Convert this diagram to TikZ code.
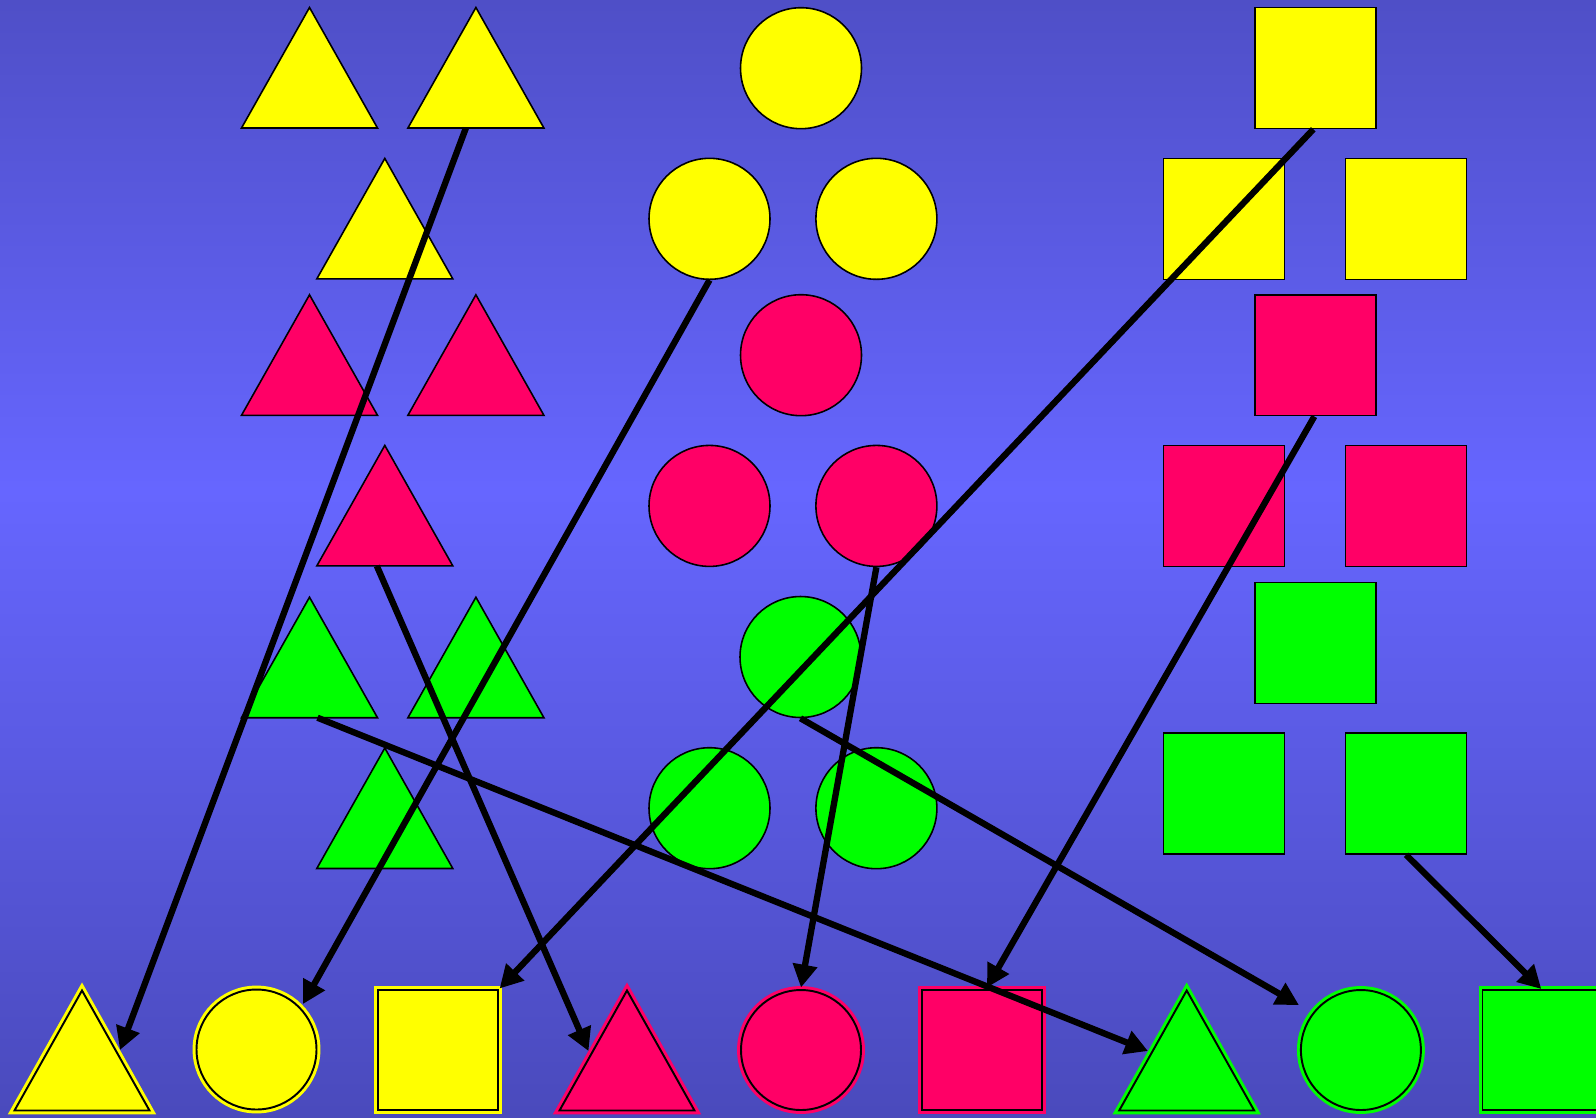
\documentclass[tikz,border=0pt]{standalone}
\usetikzlibrary{arrows.meta,calc}
\definecolor{sy}{HTML}{FFFF00}
\definecolor{sr}{HTML}{FF0066}
\definecolor{sg}{HTML}{00FF00}
\definecolor{bgtop}{HTML}{4F4FC7}
\definecolor{bgmid}{HTML}{6666FF}
\definecolor{bgbot}{HTML}{4A4ABC}
\newcommand\mytri[5]{%
  \coordinate (#1) at (#2,#3);
  \draw[#5, fill=#4] ($(#1)+(-68,0)$) -- ($(#1)+(0,-120.5)$) -- ($(#1)+(68,0)$) -- cycle;}
\begin{document}
\begin{tikzpicture}[x=0.02cm,y=-0.02cm,
  shp/.style={draw=black, line width=0.9pt, line join=miter},
  circ/.style={shp, circle, inner sep=0pt, minimum size=2.42cm},
  sq/.style={shp, rectangle, inner sep=0pt, minimum size=2.42cm},
  bshp/.style={draw=black, line width=1.1pt, preaction={draw=#1, line width=4.5pt}, fill=#1},
  bcirc/.style={bshp=#1, circle, inner sep=0pt, minimum size=2.4cm},
  bsq/.style={bshp=#1, rectangle, inner sep=0pt, minimum size=2.4cm},
  arr/.style={line width=3.6pt, -{Triangle[length=13pt,width=13.5pt]}}]
\useasboundingbox (0,0) rectangle (1596,1117);
\shade[top color=bgtop,bottom color=bgmid] (0,0) rectangle (1596,491);
\shade[top color=bgmid,bottom color=bgbot] (0,490) rectangle (1596,1117);
% triangles
\mytri{ty1}{309.5}{128}{sy}{shp}
\mytri{ty2}{475.9}{128}{sy}{shp}
\mytri{ty3}{384.8}{278.9}{sy}{shp}
\mytri{tr1}{309.5}{415.3}{sr}{shp}
\mytri{tr2}{475.9}{415.3}{sr}{shp}
\mytri{tr3}{384.8}{565.9}{sr}{shp}
\mytri{tg1}{309.5}{717.7}{sg}{shp}
\mytri{tg2}{475.9}{717.7}{sg}{shp}
\mytri{tg3}{384.8}{868.5}{sg}{shp}
% circles
\node[circ, fill=sy] (cy1) at (801,68.2) {};
\node[circ, fill=sy] (cy2) at (709.5,218.8) {};
\node[circ, fill=sy] (cy3) at (876.4,218.8) {};
\node[circ, fill=sr] (cr1) at (801,355.2) {};
\node[circ, fill=sr] (cr2) at (709.5,505.9) {};
\node[circ, fill=sr] (cr3) at (876.4,505.9) {};
\node[circ, fill=sg] (cg1) at (800.5,657) {};
\node[circ, fill=sg] (cg2) at (709.5,808.2) {};
\node[circ, fill=sg] (cg3) at (876.4,808.2) {};
% squares
\node[sq, fill=sy] (sy1) at (1315.3,68) {};
\node[sq, fill=sy] (sy2) at (1223.9,219) {};
\node[sq, fill=sy] (sy3) at (1406,219) {};
\node[sq, fill=sr] (sr1) at (1315.3,355.2) {};
\node[sq, fill=sr] (sr2) at (1223.9,506) {};
\node[sq, fill=sr] (sr3) at (1406,506) {};
\node[sq, fill=sg] (sg1) at (1315.3,643) {};
\node[sq, fill=sg] (sg2) at (1223.9,793.5) {};
\node[sq, fill=sg] (sg3) at (1406,793.5) {};
% bottom row
\coordinate (bty) at (82,1110.5);
\draw[bshp=sy] ($(bty)+(-67.5,0)$) -- ($(bty)+(0,-120)$) -- ($(bty)+(67.5,0)$) -- cycle;
\node[bcirc=sy] (bcy) at (256.5,1049.5) {};
\node[bsq=sy] (bsy) at (437.6,1050) {};
\coordinate (btr) at (627,1110.5);
\draw[bshp=sr] ($(btr)+(-67.5,0)$) -- ($(btr)+(0,-120)$) -- ($(btr)+(67.5,0)$) -- cycle;
\node[bcirc=sr] (bcr) at (801,1050) {};
\node[bsq=sr] (bsr) at (982.3,1050) {};
\coordinate (btg) at (1186.7,1110.5);
\draw[bshp=sg] ($(btg)+(-67.5,0)$) -- ($(btg)+(0,-120)$) -- ($(btg)+(67.5,0)$) -- cycle;
\node[bcirc=sg] (bcg) at (1360.9,1050) {};
\node[bsq=sg] (bsg) at (1542.5,1050) {};
% arrows
\draw[arr] ($(ty2)+(-10,0)$) -- ($(bty)+(38,-60.5)$);
\draw[arr] (cy2.south) -- ($(bcy)+(46.5,-45.5)$);
\draw[arr] ($(sy1.south)+(-2,0)$) -- ($(bsy)+(62,-61.5)$);
\draw[arr] ($(tr3)+(-8,0)$) -- ($(btr)+(-38.5,-59.5)$);
\draw[arr] (cr3.south) -- ($(bcr)+(0,-62.5)$);
\draw[arr] ($(sr1.south)+(-1,0)$) -- ($(bsr)+(4.7,-62.5)$);
\draw[arr] ($(tg1)+(8,0)$) -- ($(btg)+(-38.7,-59.5)$);
\draw[arr] (cg1.south) -- ($(bcg)+(-62,-45)$);
\draw[arr] (sg3.south) -- ($(bsg)+(-1.2,-61)$);
\end{tikzpicture}
\end{document}
